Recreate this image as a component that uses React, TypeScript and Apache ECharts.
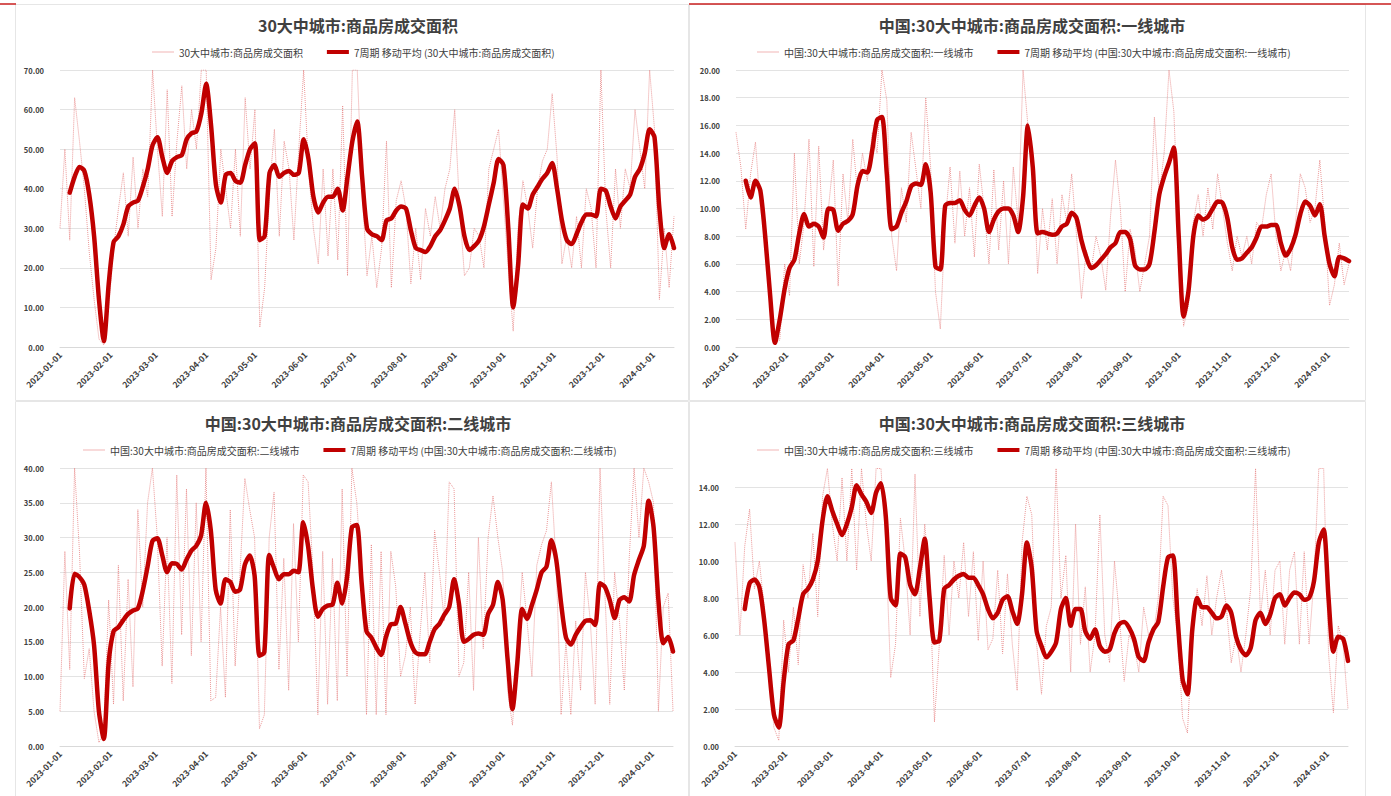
import React, { useEffect, useRef } from "react";
import * as echarts from "echarts";

// ---- axis / sampling description ----
const START_UTC = Date.UTC(2023, 0, 1);
const DAY_COUNT = 379; // 2023-01-01 .. 2024-01-14
const THIN_STEP = 3; // daily series read every 3 days from day 0
const MA_START = 6; // moving average begins on day 6
const MA_STEP = 3;

// ---- texts ----
const titles = [
  "30大中城市:商品房成交面积",
  "中国:30大中城市:商品房成交面积:一线城市",
  "中国:30大中城市:商品房成交面积:二线城市",
  "中国:30大中城市:商品房成交面积:三线城市",
];
const thinNames = [
  "30大中城市:商品房成交面积",
  "中国:30大中城市:商品房成交面积:一线城市",
  "中国:30大中城市:商品房成交面积:二线城市",
  "中国:30大中城市:商品房成交面积:三线城市",
];
const maNames = [
  "7周期 移动平均 (30大中城市:商品房成交面积)",
  "7周期 移动平均 (中国:30大中城市:商品房成交面积:一线城市)",
  "7周期 移动平均 (中国:30大中城市:商品房成交面积:二线城市)",
  "7周期 移动平均 (中国:30大中城市:商品房成交面积:三线城市)",
];
const yMax = [70, 20, 40, 15];
const yInterval = [10, 2, 5, 2];

// ---- values ----
const totalDaily = [
  30, 50, 27, 63, 52, 40, 24, 12, 2, 0.5,
  10, 25, 35, 44, 28, 48, 30, 45, 38, 70,
  50, 33, 65, 33, 52, 66, 45, 60, 50, 70,
  70, 17, 25, 50, 40, 30, 50, 28, 63, 45,
  60, 5, 15, 40, 55, 28, 52, 45, 27, 50,
  70, 45, 30, 21, 45, 23, 45, 22, 61, 18,
  70, 70, 40, 18, 28, 15, 25, 52, 15, 37,
  42, 35, 16, 30, 17, 35, 28, 38, 30, 40,
  45, 60, 35, 18, 20, 30, 28, 20, 45, 50,
  55, 37, 20, 4, 30, 42, 35, 25, 40, 47,
  50, 64, 48, 21, 28, 20, 33, 20, 40, 35,
  20, 70, 35, 20, 45, 30, 45, 40, 60, 50,
  40, 70, 55, 12, 30, 15, 33,
];
const totalMA = [
  39, 43, 45.5, 44.5, 38.5, 28, 12, 1.5, 16, 26.5,
  28, 31, 35.5, 36.5, 37, 40.5, 45, 51, 53, 48,
  44, 47, 48, 48.5, 52.5, 54, 54.5, 59, 66.5, 56,
  41, 36.5, 43.5, 44, 42, 41.5, 46, 50, 51.5, 27,
  28, 44, 46, 43, 44, 44.5, 43.5, 44, 52.5, 47.5,
  38, 34, 36.5, 38, 38, 40, 34.5, 43, 52, 57,
  43, 30, 28.5, 28, 27, 32, 32.5, 34.5, 35.5, 35,
  29.5, 25, 24.5, 24, 25.5, 28, 29.5, 32, 35, 40,
  35.5, 28, 24.5, 25.5, 27, 30.5, 36, 41.5, 47.5, 46,
  30, 10, 20.5, 36, 35, 38.5, 40.5, 42.5, 44, 46.5,
  40, 32, 27, 26, 28.5, 31.5, 33.5, 33.5, 33, 40,
  39.5, 35.5, 32.5, 35.5, 37, 38.5, 43, 45, 49, 55,
  53, 35, 25, 28.5, 25,
];

const tier1Daily = [
  15.5, 13, 8.5, 12.5, 14.8, 10, 8, 3, 0.3, 0.5,
  6, 3.7, 14, 6, 9, 15, 5.8, 14.5, 7, 10,
  13.5, 4.4, 12.5, 9, 15, 11, 14, 12, 15.5, 14,
  20, 17.8, 8, 5.5, 11.5, 9, 15.5, 12.8, 10, 18,
  13, 4, 1.3, 9, 13, 7.5, 12.7, 8, 11.5, 6.5,
  13.2, 10, 6, 12.8, 7, 12, 6, 13, 9, 20,
  16, 14, 5.3, 10, 7, 10.7, 6, 11, 9, 12.5,
  8, 3.5, 7, 5.5, 8, 6.5, 4.1, 9.5, 13.5, 10,
  4, 8.5, 7, 4, 6, 8, 16.6, 11, 14, 20,
  17, 8, 1.5, 3, 9, 11, 8, 11.5, 8.5, 12.5,
  10, 7.5, 5.5, 8, 6.5, 8, 6, 9, 8.5, 11,
  12.5, 8, 5.5, 7, 5.5, 9, 12.5, 11.5, 9, 10,
  13.5, 9, 3, 4.5, 7.5, 4.5, 6,
];
const tier1MA = [
  12.0, 10.8, 12.0, 11.3, 8.0, 3.8, 0.3, 2.0, 4.2, 5.7,
  6.3, 8.2, 9.6, 8.7, 8.9, 8.7, 7.9, 10.0, 9.9, 8.4,
  8.9, 9.1, 9.6, 11.7, 12.7, 12.6, 14.2, 16.4, 16.6, 12.5,
  8.5, 8.7, 9.7, 10.5, 11.6, 11.8, 11.7, 13.2, 11.2, 5.8,
  5.6, 10.2, 10.4, 10.4, 10.6, 9.9, 9.5, 10.2, 10.8, 10.0,
  8.3, 9.2, 9.8, 10.0, 10.0, 9.5, 8.3, 10.8, 16.0, 13.0,
  8.2, 8.3, 8.2, 8.1, 8.2, 8.7, 8.9, 9.7, 9.3, 7.7,
  6.5, 5.7, 5.9, 6.3, 6.7, 7.2, 7.5, 8.3, 8.3, 7.8,
  5.9, 5.6, 5.6, 6.0, 8.3, 11.0, 12.3, 13.3, 14.4, 8.0,
  2.2, 4.0, 8.0, 9.5, 9.2, 9.4, 10.0, 10.5, 10.4, 9.3,
  7.2, 6.3, 6.4, 6.8, 7.2, 7.9, 8.7, 8.7, 8.8, 8.8,
  7.5, 6.6, 7.1, 8.1, 9.6, 10.5, 10.2, 9.5, 10.3, 8.0,
  6.0, 5.1, 6.5, 6.4, 6.2,
];

const tier2Daily = [
  5, 28, 11, 40, 28, 9.7, 14, 5, 0.5, 2,
  21, 6, 26, 6.5, 24, 8.5, 34, 20, 35, 40,
  30, 11.5, 30, 9, 39, 16, 37, 13, 35, 15,
  40, 6.5, 7, 20, 7, 34, 11.5, 25, 38.5, 34,
  30, 2.5, 4.5, 30, 36.5, 11, 27, 8, 32, 15,
  39, 38, 25, 4.5, 28, 6, 27, 6.5, 37, 10,
  40, 35, 25, 4.5, 29, 4.5, 28, 4.5, 28, 23,
  10, 13, 20, 6, 16, 25, 12, 31, 25, 18,
  38, 37, 10, 12, 25, 8, 30, 14, 30, 36,
  30, 25, 8, 3, 13, 25, 18, 10, 26, 29,
  31, 38, 26, 4.5, 15, 4.5, 18, 8, 25, 18,
  6, 40, 22, 6, 25, 18, 8, 27, 40, 30,
  40, 38, 35, 5, 20, 22, 5,
];
const tier2MA = [
  19.8, 24.8, 24.3, 23.2, 19.5, 14.5, 5.0, 1.0, 12.0, 16.5,
  17.1, 18.1, 19.0, 19.5, 19.8, 22.3, 25.8, 29.5, 29.9, 27.5,
  25.0, 26.3, 26.2, 25.4, 26.8, 28.1, 28.8, 30.3, 35.0, 31.0,
  22.5, 20.5, 24.0, 23.6, 22.2, 22.5, 26.1, 27.4, 24.5, 13.0,
  13.5, 27.5, 25.6, 24.0, 24.7, 24.7, 25.2, 25.0, 32.2, 28.7,
  22.5, 18.6, 19.7, 20.2, 20.3, 23.5, 20.5, 24.3, 31.5, 31.8,
  23.5, 16.5, 15.6, 14.2, 13.1, 15.7, 17.5, 17.6, 20.0, 17.6,
  15.0, 13.5, 13.2, 13.2, 15.0, 16.8, 17.6, 18.9, 20.0, 24.0,
  20.5, 15.0, 15.4, 16.0, 16.2, 16.0, 19.0, 20.3, 23.6, 21.0,
  12.5, 5.3, 12.0, 19.7, 18.3, 20.3, 22.5, 25.0, 25.8, 29.6,
  26.8, 20.5, 15.6, 14.6, 16.0, 17.1, 18.0, 18.1, 17.4, 23.4,
  22.9, 21.0, 18.4, 21.0, 21.4, 20.8, 24.6, 26.8, 28.8, 35.3,
  31.5, 21.0, 14.8, 15.7, 13.6,
];

const tier3Daily = [
  11, 6, 10.8, 12.8, 8.5, 10, 7.5, 4, 1, 0.3,
  6.8, 4, 7.5, 4.4, 9.8, 8, 11.5, 7, 13.5, 15,
  12, 10, 14.5, 10, 15, 9.5, 15, 12, 10, 15,
  15, 11, 3.7, 5.5, 12.3, 10, 6, 14.7, 7, 12,
  9, 1.3, 5.5, 10.3, 6, 10, 8, 11, 7, 10.5,
  5.7, 10, 5.2, 5.8, 9.5, 5, 9.3, 5.5, 3, 11,
  13.5, 12.5, 5.5, 2.8, 6.5, 7.5, 15, 8, 10.3, 4,
  12, 5.5, 8.6, 4, 6, 12.5, 6, 4.5, 10, 7,
  3.5, 6, 5.5, 4, 7.5, 6, 6, 8, 13.5, 13,
  8, 6, 1.5, 0.7, 6, 8.5, 6.5, 9.2, 6, 8,
  9.5, 7.5, 4.5, 6, 4, 6, 8.5, 15, 7, 9.5,
  6, 9.5, 10, 5.5, 9.5, 10.5, 5.5, 10.5, 5.5, 9,
  15, 15, 5, 1.8, 6.5, 5.5, 2,
];
const tier3MA = [
  7.4, 8.8, 9.0, 8.6, 6.8, 4.2, 1.7, 1.0, 3.5, 5.5,
  5.7, 6.9, 8.2, 8.5, 9.0, 10.0, 12.2, 13.5, 12.7, 12.0,
  11.4, 12.0, 12.9, 14.1, 13.6, 13.2, 12.6, 13.7, 14.2, 12.4,
  8.0, 7.6, 10.4, 10.2, 8.7, 8.2, 9.6, 11.2, 8.0, 5.6,
  5.7, 8.5, 8.7, 9.0, 9.2, 9.3, 9.1, 9.1, 8.7, 8.2,
  7.4, 6.9, 7.2, 7.9, 8.1, 7.3, 6.6, 8.2, 11.0, 9.6,
  6.2, 5.4, 4.8, 5.1, 5.6, 7.4, 8.0, 6.5, 7.4, 7.4,
  6.2, 5.8, 6.3, 5.4, 5.1, 5.2, 6.1, 6.6, 6.7, 6.4,
  5.8, 4.8, 4.6, 5.6, 6.3, 6.7, 8.6, 10.2, 10.3, 6.8,
  3.6, 2.8, 6.3, 8.0, 7.5, 7.5, 7.2, 6.9, 7.0, 7.6,
  7.2, 5.9, 5.2, 4.9, 5.3, 6.8, 7.2, 6.6, 7.1, 8.0,
  8.2, 7.6, 8.0, 8.3, 8.2, 7.9, 8.0, 8.9, 11.0, 11.7,
  8.0, 5.1, 5.9, 5.8, 4.6,
];

const dailySeries = [totalDaily, tier1Daily, tier2Daily, tier3Daily];
const maSeries = [totalMA, tier1MA, tier2MA, tier3MA];

// ---- layout ----
const grids = [
  { left: 60, right: 717, top: 70, bottom: 449 },
  { left: 736, right: 42, top: 70, bottom: 449 },
  { left: 60, right: 718, top: 468, bottom: 50 },
  { left: 735, right: 43, top: 468.5, bottom: 50 },
];
const titlePos = [
  { x: 353, y: 12 },
  { x: 1027, y: 12 },
  { x: 353, y: 410 },
  { x: 1027, y: 410 },
];
const legendPos = [
  { x: 147, y: 42 },
  { x: 752, y: 42 },
  { x: 78, y: 440 },
  { x: 752, y: 440 },
];

const THIN_COLOR = "#e68080";
const THIN_LEGEND_COLOR = "#f0b4b4";
const MA_COLOR = "#c00000";
const FONT = '"Noto Sans CJK SC", "Noto Sans", sans-serif';
const THIN_ICON = "path://M0,0L0,0M0,4L0,4M0,1.5L22,1.5L22,2.5L0,2.5Z";

function buildDates(): string[] {
  const out: string[] = [];
  for (let i = 0; i < DAY_COUNT; i++) {
    out.push(new Date(START_UTC + i * 86400000).toISOString().slice(0, 10));
  }
  return out;
}

export default function App() {
  const ref = useRef<HTMLDivElement>(null);

  useEffect(() => {
    if (!ref.current) return;
    const chart = echarts.init(ref.current, undefined, { renderer: "svg" });
    const dates = buildDates();

    const series: any[] = [];
    for (let i = 0; i < 4; i++) {
      series.push({
        name: thinNames[i],
        type: "line",
        xAxisIndex: i,
        yAxisIndex: i,
        data: dailySeries[i].map((v, k) => [k * THIN_STEP, v]),
        symbol: "none",
        showSymbol: false,
        silent: true,
        z: 2,
        lineStyle: { width: 1, type: "dotted", color: THIN_COLOR, opacity: 0.8 },
        itemStyle: { color: THIN_COLOR },
      });
      series.push({
        name: maNames[i],
        type: "line",
        xAxisIndex: i,
        yAxisIndex: i,
        data: maSeries[i].map((v, k) => [MA_START + k * MA_STEP, v]),
        symbol: "none",
        showSymbol: false,
        silent: true,
        z: 3,
        smooth: 0.25,
        lineStyle: { width: 4.5, color: MA_COLOR, join: "round", cap: "round" },
        itemStyle: { color: MA_COLOR },
      });
    }

    const option: any = {
      animation: false,
      backgroundColor: "#ffffff",
      textStyle: { fontFamily: FONT },
      title: titles.map((t, i) => ({
        text: t,
        left: titlePos[i].x,
        top: titlePos[i].y,
        textAlign: "center",
        textStyle: { fontSize: 16, fontWeight: "bold", color: "#404040", fontFamily: FONT },
      })),
      legend: thinNames.map((n, i) => ({
        data: [
          { name: n, icon: THIN_ICON, itemStyle: { color: THIN_LEGEND_COLOR } },
          { name: maNames[i], icon: "rect", itemStyle: { color: MA_COLOR } },
        ],
        left: legendPos[i].x,
        top: legendPos[i].y,
        orient: "horizontal",
        itemWidth: 22,
        itemHeight: 4,
        itemGap: 24,
        selectedMode: false,
        textStyle: { fontSize: 10, color: "#404040", fontFamily: FONT },
      })),
      grid: grids,
      xAxis: grids.map((_, i) => ({
        type: "category",
        gridIndex: i,
        data: dates,
        boundaryGap: false,
        axisLine: { show: true, lineStyle: { color: "#d9d9d9" } },
        axisTick: { show: false },
        splitLine: { show: false },
        axisLabel: {
          interval: (_idx: number, val: string) => val.slice(8) === "01",
          rotate: 45,
          fontSize: 8.5,
          fontWeight: "bold",
          color: "#404040",
          margin: 6,
        },
      })),
      yAxis: grids.map((_, i) => ({
        type: "value",
        gridIndex: i,
        min: 0,
        max: yMax[i],
        interval: yInterval[i],
        axisLine: { show: false },
        axisTick: { show: false },
        splitLine: {
          show: true,
          showMaxLine: i !== 3,
          lineStyle: { color: "#e3e3e3", width: 1 },
        },
        axisLabel: {
          fontSize: 7.5,
          fontWeight: "bold",
          color: "#404040",
          margin: 16,
          formatter: (v: number) =>
            v > yMax[i] - yInterval[i] / 2 && yMax[i] % yInterval[i] !== 0 ? "" : v.toFixed(2),
        },
      })),
      graphic: [
        { type: "rect", silent: true, shape: { x: 15.5, y: 4.5, width: 673, height: 396 }, style: { fill: "none", stroke: "#e6e6e6", lineWidth: 1 } },
        { type: "rect", silent: true, shape: { x: 689.5, y: 4.5, width: 676, height: 396 }, style: { fill: "none", stroke: "#e6e6e6", lineWidth: 1 } },
        { type: "rect", silent: true, shape: { x: 15.5, y: 401.5, width: 673, height: 396 }, style: { fill: "none", stroke: "#e6e6e6", lineWidth: 1 } },
        { type: "rect", silent: true, shape: { x: 689.5, y: 401.5, width: 676, height: 396 }, style: { fill: "none", stroke: "#e6e6e6", lineWidth: 1 } },
        { type: "line", silent: true, shape: { x1: 0, y1: 4, x2: 16, y2: 4 }, style: { stroke: "#c81e1e", lineWidth: 1.5 } },
        { type: "line", silent: true, shape: { x1: 689, y1: 4, x2: 1391, y2: 4 }, style: { stroke: "#c81e1e", lineWidth: 1.5 } },
      ],
      series,
    };

    chart.setOption(option);
    return () => chart.dispose();
  }, []);

  return (
    <div
      ref={ref}
      style={{ position: "absolute", left: 0, top: 0, width: 1391, height: 796 }}
    />
  );
}
